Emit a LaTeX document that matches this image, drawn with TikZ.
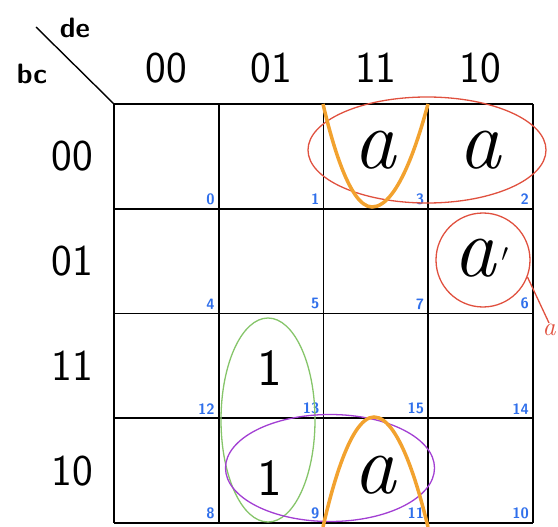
\documentclass[tikz,border=0pt]{standalone}
\usepackage{tikz}
\usetikzlibrary{shapes.geometric}
\definecolor{MapBlue}{HTML}{2F6FEB}
\definecolor{LoopRed}{HTML}{E0513F}
\definecolor{LoopOrange}{HTML}{F2A22F}
\definecolor{LoopGreen}{HTML}{86C56A}
\definecolor{LoopPurple}{HTML}{A23FD3}

\begin{document}
\begin{tikzpicture}[x=1pt,y=-1pt,
  hdr/.style={font=\sffamily\fontsize{44}{44}\selectfont},
  var/.style={font=\sffamily\bfseries\fontsize{28}{28}\selectfont},
  idx/.style={font=\sffamily\bfseries\fontsize{15}{15}\selectfont,text=MapBlue,anchor=south east,inner sep=2pt},
  val/.style={font=\itshape\fontsize{85}{85}\selectfont,inner sep=0pt},
  one/.style={font=\sffamily\fontsize{52}{52}\selectfont,inner sep=0pt},
  loop/.style={draw,ellipse,line width=1.3pt,inner sep=0pt},
  grp/.style={line width=3.5pt,LoopOrange}
]
\useasboundingbox (0,0) rectangle (558,527);
% grid
\foreach \i in {0,...,4} {
  \draw[line width=1.8pt] ({114+104.75*\i},104) -- ({114+104.75*\i},523);
  \draw[line width=1.8pt] (114,{104+104.75*\i}) -- (533,{104+104.75*\i});
}
\draw[line width=1.4pt] (36,27) -- (114,104);
\node[var] (de) at (75,28) {de};
\node[var] (bc) at (32,74) {bc};
% column and row labels
\foreach \lab [count=\k from 0] in {00,01,11,10} {
  \node[hdr] (col\lab) at ({166.4+104.75*\k},68) {\lab};
  \node[hdr] (row\lab) at (72,{156.4+104.75*\k}) {\lab};
}
% cell numbers
\foreach \n [count=\k from 0] in {0,1,3,2,4,5,7,6,12,13,15,14,8,9,11,10}
  \node[idx] (m\n) at ({114+104.75*(mod(\k,4)+1)-2},{104+104.75*(int(\k/4)+1)-2}) {\n};
% entries
\node[val] (a3) at (375,150) {a};
\node[val] (a2) at (480,150) {a};
\node[val] (a6) at (481,258) {a\kern5pt\raisebox{0.18em}{$\prime$}};
\node[one] (one13) at (270,368) {1};
\node[one] (one9) at (270,478) {1};
\node[val] (a11) at (375,475) {a};
% loops
\node[loop,LoopRed,minimum width=238pt,minimum height=106pt] (pairA) at (427,150) {};
\node[loop,LoopRed,minimum width=94pt,minimum height=94pt] (ringA) at (483,260) {};
\node[loop,LoopGreen,minimum width=94pt,minimum height=204pt] (pairOne) at (268,420) {};
\node[loop,LoopPurple,minimum width=209pt,minimum height=107pt] (pairB) at (330,468) {};
\draw[grp] (323,104) parabola bend (372,207) (428,104);
\draw[grp] (323,527) parabola bend (374,417) (428,527);
% note
\node[font=\itshape\fontsize{26}{26}\selectfont,text=LoopRed,inner sep=1pt] (note) at (549,330) {a};
\draw[LoopRed,line width=1.3pt] (ringA.-21) -- (note.north);
\end{tikzpicture}
\end{document}
